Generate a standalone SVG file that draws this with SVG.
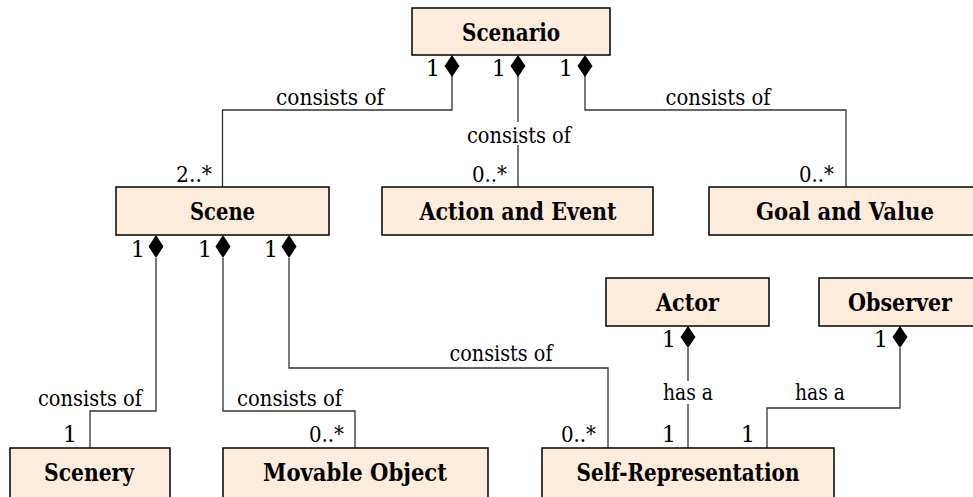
<svg xmlns="http://www.w3.org/2000/svg" width="973" height="497" viewBox="0 0 973 497">
<style>
.box{fill:#fdecdb;stroke:#000;stroke-width:1.5}
.nt{font-family:'DejaVu Serif',serif;font-weight:bold;font-size:24px;fill:#000;text-anchor:middle}
.lbl{font-family:'DejaVu Serif',serif;font-size:22.5px;fill:#000}
.c{text-anchor:middle}
.e{text-anchor:end}
.ln{fill:none;stroke:#333;stroke-width:1.3}
.dm{fill:#000}
.bg{fill:#fff}
</style>
<rect width="973" height="497" fill="#fff"/>
<g id="connectors">
  <path class="ln" d="M452,76 V110 H222.5 V187"/>
  <path class="ln" d="M518,76 V187"/>
  <path class="ln" d="M585,76 V110 H846 V187"/>
  <path class="ln" d="M156,258 V411 H90 V448"/>
  <path class="ln" d="M223,258 V411 H355 V448"/>
  <path class="ln" d="M289,258 V368 H608 V448"/>
  <path class="ln" d="M688,348 V448"/>
  <path class="ln" d="M900,348 V408 H767 V448"/>
  <polygon class="dm" points="452,55 459.5,66 452,77 444.5,66"/>
  <polygon class="dm" points="518,55 525.5,66 518,77 510.5,66"/>
  <polygon class="dm" points="585,55 592.5,66 585,77 577.5,66"/>
  <polygon class="dm" points="156,235 163.5,246.5 156,258 148.5,246.5"/>
  <polygon class="dm" points="223,235 230.5,246.5 223,258 215.5,246.5"/>
  <polygon class="dm" points="289,235 296.5,246.5 289,258 281.5,246.5"/>
  <polygon class="dm" points="688,326 695.5,337 688,348 680.5,337"/>
  <polygon class="dm" points="900,326 907.5,337 900,348 892.5,337"/>
  <rect class="bg" x="466" y="122" width="106" height="23"/>
  <rect class="bg" x="661" y="381" width="54" height="23"/>
  <text class="lbl c" x="330" y="105" textLength="108" lengthAdjust="spacingAndGlyphs">consists of</text>
  <text class="lbl c" x="519" y="143" textLength="104" lengthAdjust="spacingAndGlyphs">consists of</text>
  <text class="lbl c" x="718" y="105" textLength="105" lengthAdjust="spacingAndGlyphs">consists of</text>
  <text class="lbl c" x="90" y="406" textLength="104" lengthAdjust="spacingAndGlyphs">consists of</text>
  <text class="lbl c" x="289.5" y="406" textLength="105" lengthAdjust="spacingAndGlyphs">consists of</text>
  <text class="lbl c" x="501" y="361" textLength="103" lengthAdjust="spacingAndGlyphs">consists of</text>
  <text class="lbl c" x="688" y="400" textLength="50" lengthAdjust="spacingAndGlyphs">has a</text>
  <text class="lbl c" x="820" y="400" textLength="50" lengthAdjust="spacingAndGlyphs">has a</text>
  <text class="lbl e" x="440" y="76">1</text>
  <text class="lbl e" x="506" y="76">1</text>
  <text class="lbl e" x="573" y="76">1</text>
  <text class="lbl e" x="145" y="257">1</text>
  <text class="lbl e" x="212" y="257">1</text>
  <text class="lbl e" x="278" y="257">1</text>
  <text class="lbl e" x="676" y="347">1</text>
  <text class="lbl e" x="888" y="347">1</text>
  <text class="lbl" x="176" y="182" textLength="36" lengthAdjust="spacingAndGlyphs">2..*</text>
  <text class="lbl" x="472" y="182" textLength="35" lengthAdjust="spacingAndGlyphs">0..*</text>
  <text class="lbl" x="799" y="182" textLength="35" lengthAdjust="spacingAndGlyphs">0..*</text>
  <text class="lbl e" x="77" y="442">1</text>
  <text class="lbl" x="309" y="442" textLength="35" lengthAdjust="spacingAndGlyphs">0..*</text>
  <text class="lbl" x="561" y="442" textLength="35" lengthAdjust="spacingAndGlyphs">0..*</text>
  <text class="lbl e" x="676" y="442">1</text>
  <text class="lbl e" x="755" y="442">1</text>
</g>
<g id="scenario"><rect class="box" x="412" y="8" width="198" height="47"/><text class="nt" x="511" y="41" textLength="98" lengthAdjust="spacingAndGlyphs">Scenario</text></g>
<g id="scene"><rect class="box" x="116" y="187" width="213" height="48"/><text class="nt" x="222.5" y="220" textLength="65" lengthAdjust="spacingAndGlyphs">Scene</text></g>
<g id="action-event"><rect class="box" x="382" y="187" width="271" height="48"/><text class="nt" x="518" y="220" textLength="197" lengthAdjust="spacingAndGlyphs">Action and Event</text></g>
<g id="goal-value"><rect class="box" x="709" y="187" width="272" height="48"/><text class="nt" x="845" y="220" textLength="178" lengthAdjust="spacingAndGlyphs">Goal and Value</text></g>
<g id="actor"><rect class="box" x="606" y="278" width="163" height="48"/><text class="nt" x="687.5" y="311" textLength="63" lengthAdjust="spacingAndGlyphs">Actor</text></g>
<g id="observer"><rect class="box" x="819" y="278" width="162" height="48"/><text class="nt" x="900" y="311" textLength="104" lengthAdjust="spacingAndGlyphs">Observer</text></g>
<g id="scenery"><rect class="box" x="10" y="448" width="160" height="55"/><text class="nt" x="89" y="481" textLength="90" lengthAdjust="spacingAndGlyphs">Scenery</text></g>
<g id="movable-object"><rect class="box" x="223" y="448" width="265" height="55"/><text class="nt" x="355" y="481" textLength="184" lengthAdjust="spacingAndGlyphs">Movable Object</text></g>
<g id="self-representation"><rect class="box" x="542" y="448" width="292" height="55"/><text class="nt" x="688" y="481" textLength="223" lengthAdjust="spacingAndGlyphs">Self-Representation</text></g>
</svg>
